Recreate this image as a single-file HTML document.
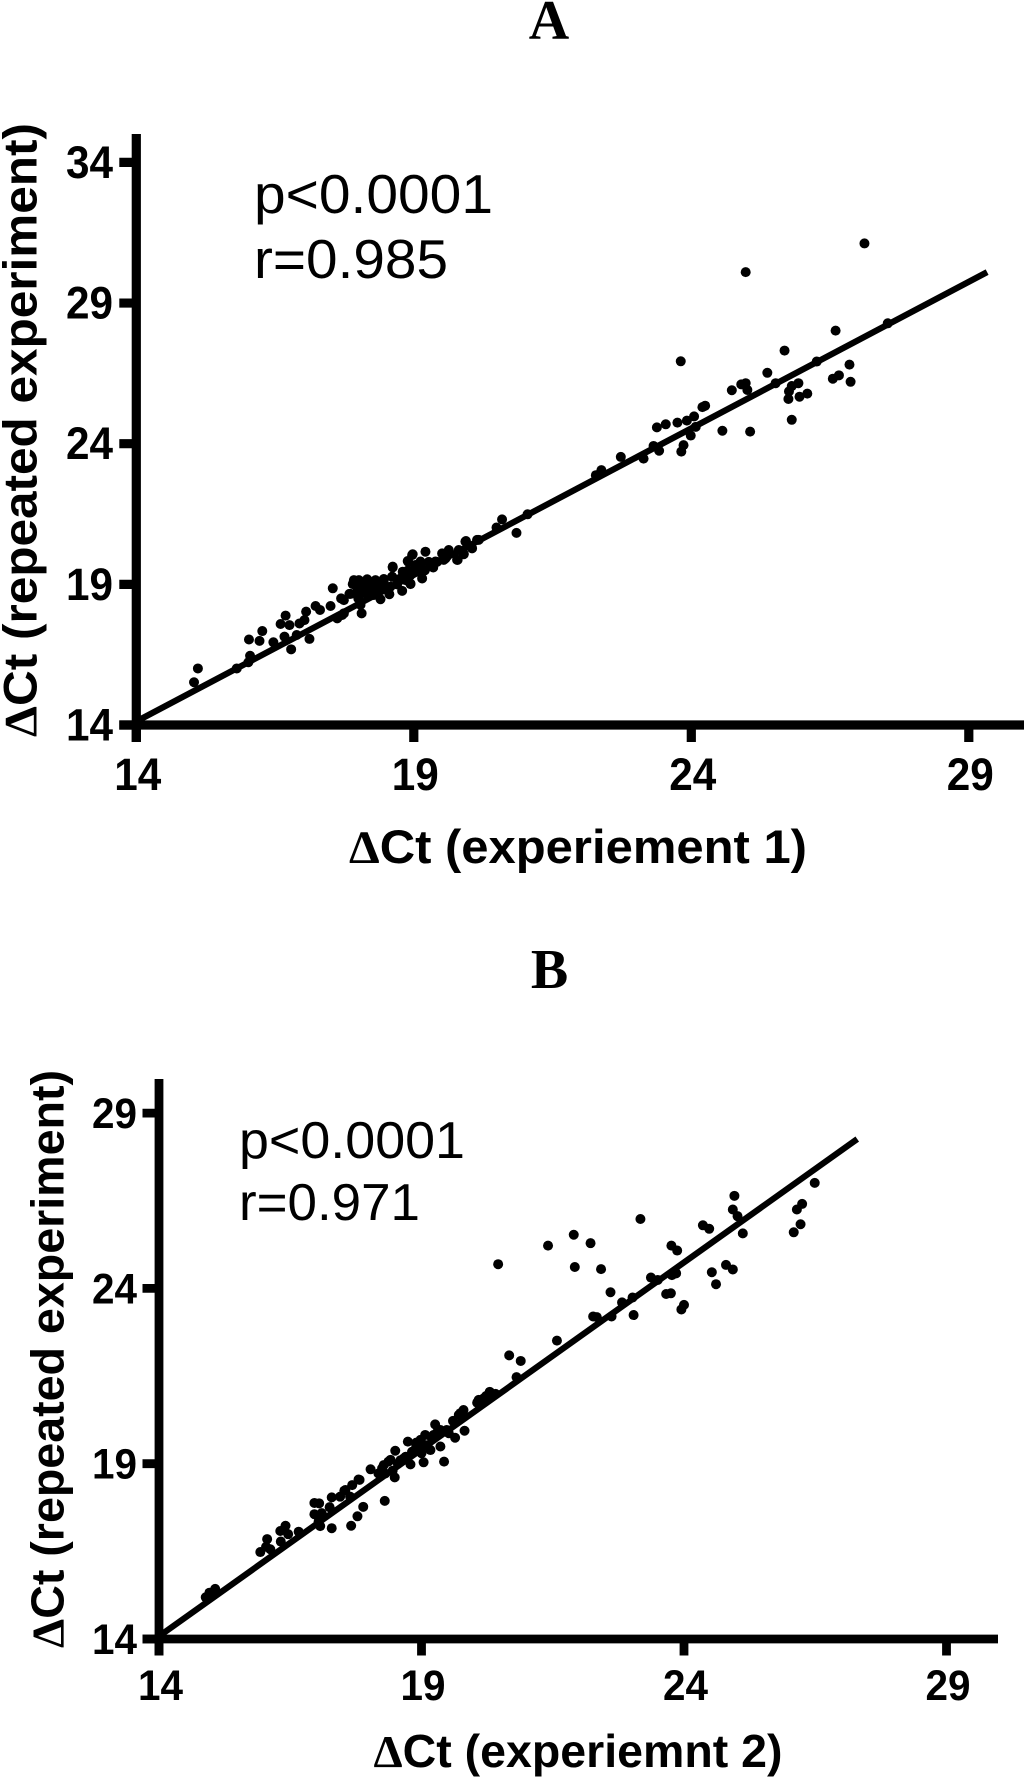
<!DOCTYPE html>
<html lang="en">
<head>
<meta charset="utf-8">
<title>Delta Ct repeat experiment correlation plots</title>
<style>
html,body{margin:0;padding:0;background:#fff;width:1024px;height:1777px;overflow:hidden}
svg{display:block}
text{fill:#000;font-family:"Liberation Sans",Arial,sans-serif}
.b{font-weight:700}
.title{font-family:"Liberation Serif",serif;font-weight:700;font-size:56px;text-anchor:middle}
.delta{font-family:"Liberation Serif",serif;font-weight:700}
</style>
</head>
<body>
<svg id="figure" xmlns="http://www.w3.org/2000/svg" width="1024" height="1777" viewBox="0 0 1024 1777">
  <rect width="1024" height="1777" fill="#fff"/>
  <text class="title" x="549" y="39">A</text>
  <text class="title" x="549.5" y="988">B</text>

  <g id="panel-a"></g>
  <g id="panel-b"></g>

  <text class="b" x="349" y="863" font-size="47" textLength="458" lengthAdjust="spacingAndGlyphs"><tspan class="delta">Δ</tspan>Ct (experiement 1)</text>
  <text class="b" transform="translate(36.7,737) rotate(-90)" font-size="47" textLength="614" lengthAdjust="spacingAndGlyphs"><tspan class="delta">Δ</tspan>Ct (repeated experiment)</text>
  <text x="254" y="213" font-size="55" textLength="239" lengthAdjust="spacingAndGlyphs">p&lt;0.0001</text>
  <text x="254" y="278" font-size="55" textLength="194" lengthAdjust="spacingAndGlyphs">r=0.985</text>

  <text class="b" x="373.5" y="1767" font-size="46" textLength="409" lengthAdjust="spacingAndGlyphs"><tspan class="delta">Δ</tspan>Ct (experiemnt 2)</text>
  <text class="b" transform="translate(63.5,1648) rotate(-90)" font-size="46" textLength="578" lengthAdjust="spacingAndGlyphs"><tspan class="delta">Δ</tspan>Ct (repeated experiment)</text>
  <text x="239" y="1158" font-size="52" textLength="226" lengthAdjust="spacingAndGlyphs">p&lt;0.0001</text>
  <text x="239" y="1220" font-size="52" textLength="181" lengthAdjust="spacingAndGlyphs">r=0.971</text>
</svg>
<script>
var aXTicks = [14, 19, 24, 29];
var aYTicks = [14, 19, 24, 29, 34];
var bXTicks = [14, 19, 24, 29];
var bYTicks = [14, 19, 24, 29];

var aLineX = [14.07, 29.33];
var aLineY = [14.2, 30.1];
var bLineX = [14.02, 27.3];
var bLineY = [14.1, 28.26];

var aPointsX = [27.12,24.98,27.54,26.60,25.68,23.81,26.26,26.85,25.37,26.66,26.55,26.87,25.93,24.98,24.90,25.52,25.81,25.01,24.73,25.76,26.09,25.95,25.75,24.25,24.20,24.05,23.92,23.75,23.54,23.38,24.08,25.81,24.56,25.06,23.99,23.86,23.82,23.32,23.42,23.14,22.73,22.38,22.28,21.05,20.85,
20.59,20.49,20.14,19.94,20.05,19.90,19.79,19.63,19.51,19.54,19.21,18.97,18.89,19.39,19.12,19.03,18.62,18.80,18.94,19.15,18.61,18.46,18.31,18.16,18.01,17.92,17.90,18.94,18.79,18.56,18.40,18.46,18.28,18.10,17.98,18.16,17.84,17.54,17.69,17.50,18.06,18.04,17.74,17.62,17.23,17.31,17.06,17.03,16.94,16.69,16.60,16.76,17.12,16.89,16.67,16.79,16.47,16.27,16.03,16.22,16.05,16.02,15.81,15.11,15.04,
17.98,17.86,18.04,18.22,18.94,18.62,18.82,18.90,18.98,19.12,19.27,19.42,19.57,19.78,19.90,19.81,19.93,20.17,17.71,17.74,18.61,18.46,18.31,18.28,18.10,18.43,18.58,18.76,18.91,19.03,
18.70,18.85,18.20,18.35,18.00,18.90,19.20,19.35,19.60];
var aPointsY = [31.12,30.10,28.28,28.02,27.31,26.93,26.92,26.81,26.52,26.43,26.31,26.20,26.15,26.15,26.11,26.15,26.05,25.91,25.90,25.86,25.78,25.67,25.59,25.35,25.30,24.97,24.82,24.75,24.69,24.58,24.60,24.85,24.46,24.43,24.29,23.95,23.72,23.92,23.75,23.47,23.53,23.06,22.88,21.49,20.83,
21.31,21.02,20.58,20.54,20.28,20.08,19.87,20.22,20.10,19.87,20.16,20.04,19.83,19.81,19.81,19.69,19.60,19.45,19.33,19.21,19.27,19.19,19.15,19.18,19.15,19.15,19.01,19.01,18.77,18.65,18.47,18.94,18.86,18.86,18.74,18.62,18.66,18.86,18.50,18.23,17.97,18.27,17.97,17.79,18.23,18.09,18.03,17.73,17.61,17.89,17.59,17.55,17.06,17.20,17.14,16.69,16.94,17.34,17.04,16.99,16.46,16.23,16.01,16.01,15.52,
18.98,18.66,18.74,18.92,19.03,19.63,19.41,19.80,20.07,19.69,19.80,19.80,19.92,19.87,20.07,20.22,20.52,20.58,17.91,18.44,19.27,19.15,19.09,18.62,18.97,18.86,18.92,19.21,19.33,19.51,
19.00,19.15,18.75,18.75,18.50,19.50,19.50,19.60,20.00];

var bPointsX = [26.49,26.25,26.15,26.22,26.09,24.96,24.93,25.02,25.12,24.36,24.48,23.76,23.87,23.17,21.90,21.41,22.22,20.46,21.92,22.42,24.80,24.93,24.53,24.61,23.37,23.50,23.85,23.77,23.75,23.66,24.00,23.95,22.60,23.02,22.82,22.27,22.34,22.62,23.04,21.58,20.67,20.89,20.81,20.30,20.41,20.23,20.09,
20.06,19.80,19.71,19.60,19.26,19.82,19.64,19.48,19.07,19.36,19.43,18.98,18.74,19.04,19.17,18.79,18.50,18.60,18.37,18.49,18.03,18.25,18.31,17.82,17.68,17.53,17.64,17.45,17.29,18.30,17.89,17.78,17.66,17.29,17.25,17.05,16.96,16.96,17.10,17.04,17.07,16.66,16.41,16.31,16.46,16.32,16.06,16.04,16.12,15.93,15.07,14.96,14.89,
20.18,19.74,19.52,18.91,18.82,18.66,18.41,18.28,18.18,19.36,19.23,19.07,17.80,17.55,
19.20,19.30,18.90,19.00,18.70,18.55,18.45,18.90];
var bPointsY = [27.01,26.41,26.25,25.83,25.60,26.64,26.25,26.06,25.57,25.80,25.70,25.22,25.08,25.98,25.53,25.22,25.29,24.69,24.61,24.55,24.67,24.54,24.46,24.12,24.31,24.24,24.43,24.38,23.86,23.84,23.53,23.40,23.89,23.74,23.60,23.20,23.18,23.20,23.24,22.51,22.09,21.93,21.47,21.05,20.99,20.93,20.82,
20.74,20.53,20.39,20.22,20.12,19.94,19.74,19.96,19.82,19.49,19.06,19.68,19.63,19.04,19.39,18.98,19.37,19.10,19.06,18.61,18.84,18.87,18.72,18.54,18.39,18.23,18.06,18.06,18.04,17.94,17.77,17.50,17.23,17.16,17.76,17.87,17.88,17.56,17.59,17.35,17.22,17.06,17.23,17.08,16.99,16.78,16.85,16.63,16.56,16.48,15.43,15.32,15.19,
20.86,20.44,19.87,19.39,19.34,19.15,19.11,18.96,18.72,19.96,19.82,19.53,18.55,18.25,
19.70,19.90,19.50,19.30,19.20,19.00,18.80,19.60];

var SVGNS = 'http://www.w3.org/2000/svg';

function makeAxisFunction(domainStart, rangeStart, pixelsPerUnit) {
  return function (value) { return rangeStart + (value - domainStart) * pixelsPerUnit; };
}

function drawPanel(panelId, layout, xTicks, yTicks, lineX, lineY, pointsX, pointsY) {
  var group = document.getElementById(panelId);
  var sx = makeAxisFunction(14, layout.originX, layout.xUnit);
  var sy = makeAxisFunction(14, layout.originY, -layout.yUnit);
  var i, el;

  for (i = 0; i < pointsX.length; i++) {
    el = document.createElementNS(SVGNS, 'circle');
    
    
    el.setAttribute('cx', sx(pointsX[i]).toFixed(2));
    el.setAttribute('cy', sy(pointsY[i]).toFixed(2));
    el.setAttribute('r', layout.dotRadius);
    el.setAttribute('fill', '#000');
    group.appendChild(el);
  }

  el = document.createElementNS(SVGNS, 'line');
  
  
  el.setAttribute('x1', sx(lineX[0]));
  el.setAttribute('y1', sy(lineY[0]));
  el.setAttribute('x2', sx(lineX[1]));
  el.setAttribute('y2', sy(lineY[1]));
  el.setAttribute('stroke', '#000');
  el.setAttribute('stroke-width', layout.lineWidth);
  group.appendChild(el);

  el = document.createElementNS(SVGNS, 'line');
  
  
  el.setAttribute('x1', layout.originX);
  el.setAttribute('x2', layout.originX);
  el.setAttribute('y1', layout.axisTop);
  el.setAttribute('y2', layout.originY + layout.tickLength);
  el.setAttribute('stroke', '#000');
  el.setAttribute('stroke-width', layout.axisWidth);
  group.appendChild(el);

  el = document.createElementNS(SVGNS, 'line');
  
  
  el.setAttribute('x1', layout.originX - layout.tickLength);
  el.setAttribute('x2', layout.axisRight);
  el.setAttribute('y1', layout.originY);
  el.setAttribute('y2', layout.originY);
  el.setAttribute('stroke', '#000');
  el.setAttribute('stroke-width', layout.axisWidth);
  group.appendChild(el);

  for (i = 0; i < yTicks.length; i++) {
    el = document.createElementNS(SVGNS, 'line');
    
    
    el.setAttribute('x1', layout.originX - layout.tickLength);
    el.setAttribute('x2', layout.originX);
    el.setAttribute('y1', sy(yTicks[i]));
    el.setAttribute('y2', sy(yTicks[i]));
    el.setAttribute('stroke', '#000');
    el.setAttribute('stroke-width', layout.axisWidth);
    group.appendChild(el);

    el = document.createElementNS(SVGNS, 'text');
    
    
    el.setAttribute('class', 'b');
    el.setAttribute('x', layout.yLabelRight - layout.labelWidth);
    el.setAttribute('y', sy(yTicks[i]) + layout.yLabelDrop);
    el.setAttribute('font-size', layout.labelSize);
    el.setAttribute('textLength', layout.labelWidth);
    el.setAttribute('lengthAdjust', 'spacingAndGlyphs');
    el.textContent = String(yTicks[i]);
    group.appendChild(el);
  }

  for (i = 0; i < xTicks.length; i++) {
    el = document.createElementNS(SVGNS, 'line');
    
    
    el.setAttribute('x1', sx(xTicks[i]));
    el.setAttribute('x2', sx(xTicks[i]));
    el.setAttribute('y1', layout.originY);
    el.setAttribute('y2', layout.originY + layout.tickLength);
    el.setAttribute('stroke', '#000');
    el.setAttribute('stroke-width', layout.axisWidth);
    group.appendChild(el);

    el = document.createElementNS(SVGNS, 'text');
    
    
    el.setAttribute('class', 'b');
    el.setAttribute('x', sx(xTicks[i]) + layout.xLabelShift - layout.labelWidth / 2);
    el.setAttribute('y', layout.xLabelBaseline);
    el.setAttribute('font-size', layout.labelSize);
    el.setAttribute('textLength', layout.labelWidth);
    el.setAttribute('lengthAdjust', 'spacingAndGlyphs');
    el.textContent = String(xTicks[i]);
    group.appendChild(el);
  }
}

drawPanel('panel-a', {
  originX: 136.3, originY: 725, xUnit: 55.5, yUnit: 28.13,
  axisTop: 134, axisRight: 1024, axisWidth: 9.2, tickLength: 17,
  lineWidth: 6.2, dotRadius: 5, labelSize: 45, labelWidth: 47,
  yLabelRight: 113, yLabelDrop: 15.5, xLabelShift: 1.5, xLabelBaseline: 790
}, aXTicks, aYTicks, aLineX, aLineY, aPointsX, aPointsY);

drawPanel('panel-b', {
  originX: 159, originY: 1639, xUnit: 52.5, yUnit: 35.06,
  axisTop: 1079, axisRight: 998, axisWidth: 8.8, tickLength: 16.5,
  lineWidth: 6.2, dotRadius: 5, labelSize: 43, labelWidth: 45,
  yLabelRight: 137, yLabelDrop: 15, xLabelShift: 1.5, xLabelBaseline: 1700
}, bXTicks, bYTicks, bLineX, bLineY, bPointsX, bPointsY);
</script>
</body>
</html>
